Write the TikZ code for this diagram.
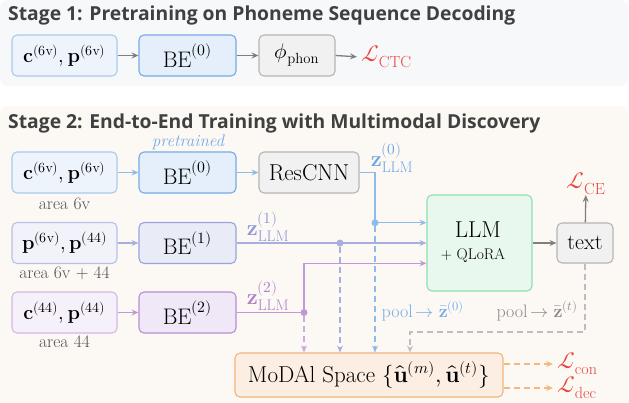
\documentclass[tikz,border=0pt]{standalone}
\usepackage{amsmath}
\usepackage{fontspec}
\usepackage{unicode-math}
\setmathfont{Latin Modern Math}
\newfontfamily\titlefont{Open Sans}
\usetikzlibrary{arrows.meta}
\definecolor{panelA}{HTML}{F7F8FA}
\definecolor{panelB}{HTML}{FCF9F4}
\definecolor{blueL}{HTML}{A9CAF0}
\definecolor{blueFillL}{HTML}{EEF4FC}
\definecolor{blueD}{HTML}{76AAE6}
\definecolor{blueFillD}{HTML}{E5EFFB}
\definecolor{indL}{HTML}{B9BFE8}
\definecolor{indFillL}{HTML}{F1F2FA}
\definecolor{indD}{HTML}{9AA3DC}
\definecolor{indFillD}{HTML}{E9EBF7}
\definecolor{purL}{HTML}{D4B8E6}
\definecolor{purFillL}{HTML}{F6F0FA}
\definecolor{purD}{HTML}{B88DD2}
\definecolor{purFillD}{HTML}{F1E8F7}
\definecolor{grayB}{HTML}{B5B5B5}
\definecolor{grayFill}{HTML}{F1F1F1}
\definecolor{greenB}{HTML}{8DE0AE}
\definecolor{greenFill}{HTML}{E9F8EE}
\definecolor{orangeB}{HTML}{F2B47C}
\definecolor{orangeFill}{HTML}{FCEEE2}
\definecolor{lossred}{HTML}{E8453C}
\definecolor{arrowgray}{HTML}{7F7F7F}
\definecolor{blueline}{HTML}{8FBBEA}
\definecolor{indline}{HTML}{A9AEE0}
\definecolor{purline}{HTML}{C198D8}
\definecolor{dashgray}{HTML}{BDBDBD}
\definecolor{orangeline}{HTML}{F3B985}
\definecolor{titlegray}{HTML}{404040}
\definecolor{labelgray}{HTML}{505050}
\definecolor{zblue}{HTML}{6FA6E4}
\definecolor{zind}{HTML}{8E95D8}
\definecolor{zpur}{HTML}{AF7FCC}
\definecolor{poolgray}{HTML}{8A8A8A}
\tikzset{
  box/.style={draw, rounded corners=5pt, line width=1.1pt, inner sep=0pt, minimum height=41pt},
  inbox/.style={box, minimum width=105pt, font=\fontsize{20}{24}\selectfont},
  bebox/.style={box, minimum width=97pt, font=\fontsize{22.5}{27}\selectfont},
  tip/.style={-{Stealth[length=7pt,width=6pt,inset=2.5pt]}},
  garrow/.style={tip, draw=arrowgray, line width=1.3pt},
  barrow/.style={tip, draw=blueline, line width=1.3pt},
  iarrow/.style={tip, draw=indline, line width=1.3pt},
  parrow/.style={tip, draw=purline, line width=1.3pt},
  dsh/.style={tip, line width=1.2pt, dash pattern=on 6pt off 4pt},
  dotnode/.style={circle, inner sep=0pt, minimum size=7pt},
  arealabel/.style={text=labelgray, font=\fontsize{17.5}{20}\selectfont, inner sep=0pt},
  loss/.style={text=lossred, font=\fontsize{23}{27}\selectfont, inner sep=0pt},
  zlabel/.style={font=\fontsize{22}{26}\selectfont, inner sep=0pt},
  title/.style={anchor=base west, text=titlegray, font=\titlefont\bfseries\fontsize{19.3}{23}\selectfont, inner sep=0pt}
}
\begin{document}
\begin{tikzpicture}[x=1pt, y=-1pt]
\useasboundingbox (0,0) rectangle (629,402);
\fill[white] (0,0) rectangle (629,402);
% panels
\fill[panelA, rounded corners=8pt] (0,0) rectangle (628,86);
\fill[panelB, rounded corners=8pt] (0,106) rectangle (628,410);
\node[title] (t1) at (8,20.5) {Stage 1: Pretraining on Phoneme Sequence Decoding};
\node[title] (t2) at (8,128.5) {Stage 2: End-to-End Training with Multimodal Discovery};

% ---------- Stage 1
\node[inbox, fill=blueFillL, draw=blueL] (s1in) at (64.5,55.5) {$\mathbf{c}^{(6\mathrm{v})},\mathbf{p}^{(6\mathrm{v})}$};
\node[bebox, fill=blueFillD, draw=blueD] (s1be) at (187.5,55.5) {$\mathrm{BE}^{(0)}$};
\node[box, fill=grayFill, draw=grayB, minimum width=76pt, font=\fontsize{21}{25}\selectfont] (s1phi) at (297,55.5) {$\phi_{\mathrm{phon}}$};
\node[loss, anchor=west] (s1ctc) at (361,57) {$\mathcal{L}_{\mathrm{CTC}}$};
\draw[garrow] (s1in) -- (s1be);
\draw[garrow] (s1be) -- (s1phi);
\draw[garrow, shorten >=4pt] (s1phi.east) -- (s1ctc.west);

% ---------- Stage 2
\node[inbox, fill=blueFillL, draw=blueL] (in0) at (64.5,172.5) {$\mathbf{c}^{(6\mathrm{v})},\mathbf{p}^{(6\mathrm{v})}$};
\node[bebox, fill=blueFillD, draw=blueD] (be0) at (187.5,172.5) {$\mathrm{BE}^{(0)}$};
\node[box, fill=grayFill, draw=grayB, minimum width=100pt, font=\fontsize{23}{27}\selectfont] (rescnn) at (309,172.5) {ResCNN};
\node[text=blueD, font=\itshape\fontsize{17}{20}\selectfont, inner sep=0pt] (pre) at (188,142) {pretrained};
\node[arealabel] (a0) at (64.5,204) {area 6v};

\node[inbox, fill=indFillL, draw=indL] (in1) at (64.5,243) {$\mathbf{p}^{(6\mathrm{v})},\mathbf{p}^{(44)}$};
\node[bebox, fill=indFillD, draw=indD] (be1) at (187.5,243) {$\mathrm{BE}^{(1)}$};
\node[arealabel] (a1) at (64.5,273) {area 6v + 44};

\node[inbox, fill=purFillL, draw=purL] (in2) at (64.5,312.5) {$\mathbf{c}^{(44)},\mathbf{p}^{(44)}$};
\node[bebox, fill=purFillD, draw=purD] (be2) at (187.5,312.5) {$\mathrm{BE}^{(2)}$};
\node[arealabel] (a2) at (64.5,342) {area 44};

\node[box, fill=greenFill, draw=greenB, minimum width=105pt, minimum height=96pt] (llm) at (479.5,243) {};
\node[font=\fontsize{23}{27}\selectfont, inner sep=0pt] (llmt) at (478,230) {LLM};
\node[font=\fontsize{15.5}{18}\selectfont, inner sep=0pt] (qlora) at (473,256) {+ QLoRA};
\node[box, fill=grayFill, draw=grayB, minimum width=56pt, minimum height=40pt, font=\fontsize{22}{26}\selectfont] (txt) at (585,243) {text};
\node[loss] (lce) at (586,184) {$\mathcal{L}_{\mathrm{CE}}$};

\node[box, fill=orangeFill, draw=orangeB, minimum width=268pt, minimum height=44pt, font=\fontsize{23}{27}\selectfont] (modal) at (369,375) {MoDAl Space $\{\hat{\mathbf{u}}^{(m)},\hat{\mathbf{u}}^{(t)}\}$};
\node[loss, anchor=west] (lcon) at (557,364) {$\mathcal{L}_{\mathrm{con}}$};
\node[loss, anchor=west] (ldec) at (557,388) {$\mathcal{L}_{\mathrm{dec}}$};

% labels on lines
\node[zlabel, text=zblue] (z0) at (392,158) {$\mathbf{z}^{(0)}_{\mathrm{LLM}}$};
\node[zlabel, text=zind] (z1) at (268,227) {$\mathbf{z}^{(1)}_{\mathrm{LLM}}$};
\node[zlabel, text=zpur] (z2) at (268,296) {$\mathbf{z}^{(2)}_{\mathrm{LLM}}$};
\node[text=blueD, font=\fontsize{18}{21}\selectfont, inner sep=0pt] (pool0) at (423,311) {pool$\,\rightarrow\bar{\mathbf{z}}^{(0)}$};
\node[text=poolgray, font=\fontsize{18}{21}\selectfont, inner sep=0pt] (poolt) at (537,311) {pool$\,\rightarrow\bar{\mathbf{z}}^{(t)}$};

% junctions
\node[dotnode, fill=blueline] (j0) at (375,222.7) {};
\node[dotnode, fill=indline] (j1) at (340,243) {};
\node[dotnode, fill=purline] (j2) at (304,312.5) {};
\coordinate (k2) at (426,263.3);
\coordinate (g2) at (410,332);

% stage 2 connectors
\draw[barrow] (in0) -- (be0);
\draw[barrow] (be0) -- (rescnn);
\draw[blueline, line width=1.3pt] (rescnn.east) -| (j0.center);
\draw[barrow] (j0.center) -- (llm.west |- j0);
\draw[iarrow] (in1) -- (be1);
\draw[iarrow] (be1) -- (llm);
\draw[parrow] (in2) -- (be2);
\draw[parrow] (be2.east) -- (j2.center) |- (llm.west |- k2);
\draw[garrow] (llm) -- (txt);
\draw[garrow] (txt) -- (lce);

% dashed connectors into MoDAl
\draw[dsh, draw=purline!80] (j2) -- (j2 |- modal.north);
\draw[dsh, draw=indline] (j1) -- (j1 |- modal.north);
\draw[dsh, draw=blueline] (j0) -- (j0 |- modal.north);
\draw[dsh, draw=dashgray] (txt.south) |- (g2) -- (g2 |- modal.north);
\draw[dsh, draw=orangeline] (modal.east |- lcon.west) -- ([xshift=-4pt]lcon.west);
\draw[dsh, draw=orangeline] (modal.east |- ldec.west) -- ([xshift=-4pt]ldec.west);
\end{tikzpicture}
\end{document}
